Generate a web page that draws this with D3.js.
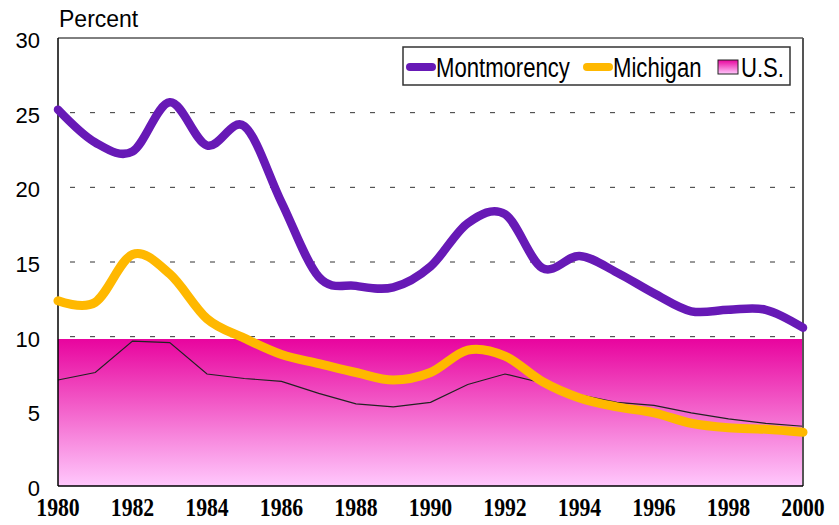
<!DOCTYPE html>
<html>
<head>
<meta charset="utf-8">
<script src="https://cdn.jsdelivr.net/npm/d3@7"></script>
<style>
  body { margin: 0; background: #fff; }
  svg { display: block; }
</style>
</head>
<body>
<div id="chart"></div>
<script>
// data
const years = d3.range(1980, 2001);
const montmorency = [25.2, 23.0, 22.4, 25.7, 22.8, 24.1, 19.0, 14.0, 13.4, 13.3, 14.7,
                     17.6, 18.2, 14.6, 15.4, 14.3, 12.9, 11.7, 11.8, 11.8, 10.6];
const michigan = [12.4, 12.3, 15.5, 14.2, 11.2, 9.9, 8.8, 8.2, 7.6, 7.1, 7.6,
                  9.1, 8.7, 7.0, 5.9, 5.3, 4.9, 4.2, 3.9, 3.8, 3.6];
const us = [7.1, 7.6, 9.7, 9.6, 7.5, 7.2, 7.0, 6.2, 5.5, 5.3, 5.6,
            6.8, 7.5, 6.9, 6.1, 5.6, 5.4, 4.9, 4.5, 4.2, 4.0];
const usBandTop = 9.85;
const yTicks = [0, 5, 10, 15, 20, 25, 30];
const xTicks = d3.range(1980, 2001, 2);

const W = 839, H = 525;
const margin = {top: 38, right: 36, bottom: 39, left: 58};

const svg = d3.select("#chart").append("svg")
    .attr("width", W)
    .attr("height", H);

const x = d3.scaleLinear().domain([1980, 2000]).range([margin.left, W - margin.right]);
const y = d3.scaleLinear().domain([0, 30]).range([H - margin.bottom, margin.top]);

// gradient for the U.S. band
const defs = svg.append("defs");
const grad = defs.append("linearGradient")
    .attr("id", "usGrad")
    .attr("x1", 0).attr("y1", 0).attr("x2", 0).attr("y2", 1);
grad.append("stop").attr("offset", "0%").attr("stop-color", "#e8049e");
grad.append("stop").attr("offset", "100%").attr("stop-color", "#ffc8fc");

// dashed gridlines
svg.append("g")
    .selectAll("line")
    .data(yTicks.filter(d => d > 0 && d < 30))
    .join("line")
    .attr("x1", x(1980)).attr("x2", x(2000))
    .attr("y1", d => y(d)).attr("y2", d => y(d))
    .attr("stroke", "#333")
    .attr("stroke-width", 1)
    .attr("stroke-dasharray", "5,15")
    .attr("stroke-dashoffset", -12);

// U.S. band
const band = d3.area()
    .x(d => x(d))
    .y0(y(0))
    .y1(y(usBandTop));
svg.append("path")
    .datum([1980, 2000])
    .attr("d", band)
    .attr("fill", "url(#usGrad)");

// U.S. line
svg.append("path")
    .datum(us)
    .attr("fill", "none")
    .attr("stroke", "#222")
    .attr("stroke-width", 1.2)
    .attr("d", d3.line().x((d, i) => x(years[i])).y(d => y(d)));

// frame
svg.append("line")
    .attr("x1", x(1980)).attr("x2", x(2000))
    .attr("y1", y(30)).attr("y2", y(30))
    .attr("stroke", "#000").attr("stroke-width", 1);
svg.append("line")
    .attr("x1", x(2000)).attr("x2", x(2000))
    .attr("y1", y(30)).attr("y2", y(0))
    .attr("stroke", "#555").attr("stroke-width", 2);
svg.append("line")
    .attr("x1", x(1980)).attr("x2", x(2000))
    .attr("y1", y(0)).attr("y2", y(0))
    .attr("stroke", "#000").attr("stroke-width", 1.5);
svg.append("line")
    .attr("x1", x(1980)).attr("x2", x(1980))
    .attr("y1", y(30)).attr("y2", y(0))
    .attr("stroke", "#000").attr("stroke-width", 1.5);

// smoothed lines
const smooth = d3.line()
    .x((d, i) => x(years[i]))
    .y(d => y(d))
    .curve(d3.curveCatmullRom.alpha(0));

svg.append("path")
    .datum(michigan)
    .attr("fill", "none")
    .attr("stroke", "#ffb800")
    .attr("stroke-width", 9)
    .attr("stroke-linecap", "round")
    .attr("stroke-linejoin", "round")
    .attr("d", smooth);

svg.append("path")
    .datum(montmorency)
    .attr("fill", "none")
    .attr("stroke", "#6719b6")
    .attr("stroke-width", 8.5)
    .attr("stroke-linecap", "round")
    .attr("stroke-linejoin", "round")
    .attr("d", smooth);

// y tick labels
svg.append("g")
    .selectAll("text")
    .data(yTicks)
    .join("text")
    .attr("x", 40)
    .attr("y", d => y(d) + 10)
    .attr("text-anchor", "end")
    .style("font-family", "'Liberation Sans', Arial, sans-serif")
    .style("font-size", "22px")
    .text(d => d);

svg.append("text")
    .attr("x", 59)
    .attr("y", 27)
    .style("font-family", "'Liberation Sans', Arial, sans-serif")
    .style("font-size", "23px")
    .text("Percent");

// x tick labels (tall, slightly condensed serif)
svg.append("g")
    .selectAll("text")
    .data(xTicks)
    .join("text")
    .attr("transform", d => "translate(" + x(d) + ",516) scale(0.87,1)")
    .attr("text-anchor", "middle")
    .style("font-family", "'Liberation Serif', 'Times New Roman', serif")
    .style("font-weight", "bold")
    .style("font-size", "25px")
    .text(d => d);

// legend
const legend = svg.append("g");
legend.append("rect")
    .attr("x", 403).attr("y", 47)
    .attr("width", 387).attr("height", 38)
    .attr("fill", "#fff")
    .attr("stroke", "#333")
    .attr("stroke-width", 1.5);

const legendItems = [
    {name: "Montmorency", color: "#6719b6", kind: "line", x: 407},
    {name: "Michigan", color: "#ffb800", kind: "line", x: 584},
    {name: "U.S.", color: "url(#usGrad)", kind: "box", x: 718}
];

function legendText(g, tx, label) {
    g.append("text")
        .attr("transform", "translate(" + tx + ",77) scale(0.79,1)")
        .style("font-family", "'Liberation Sans', Arial, sans-serif")
        .style("font-size", "28px")
        .text(label);
}

legendItems.forEach(function(d) {
    if (d.kind === "line") {
        legend.append("line")
            .attr("x1", d.x + 3).attr("x2", d.x + 25)
            .attr("y1", 67).attr("y2", 67)
            .attr("stroke", d.color)
            .attr("stroke-width", 8)
            .attr("stroke-linecap", "round");
        legendText(legend, d.x + 29, d.name);
    } else {
        legend.append("rect")
            .attr("x", d.x).attr("y", 60)
            .attr("width", 20).attr("height", 14)
            .attr("fill", d.color)
            .attr("stroke", "#222")
            .attr("stroke-width", 1);
        legendText(legend, d.x + 23, d.name);
    }
});
</script>
</body>
</html>
